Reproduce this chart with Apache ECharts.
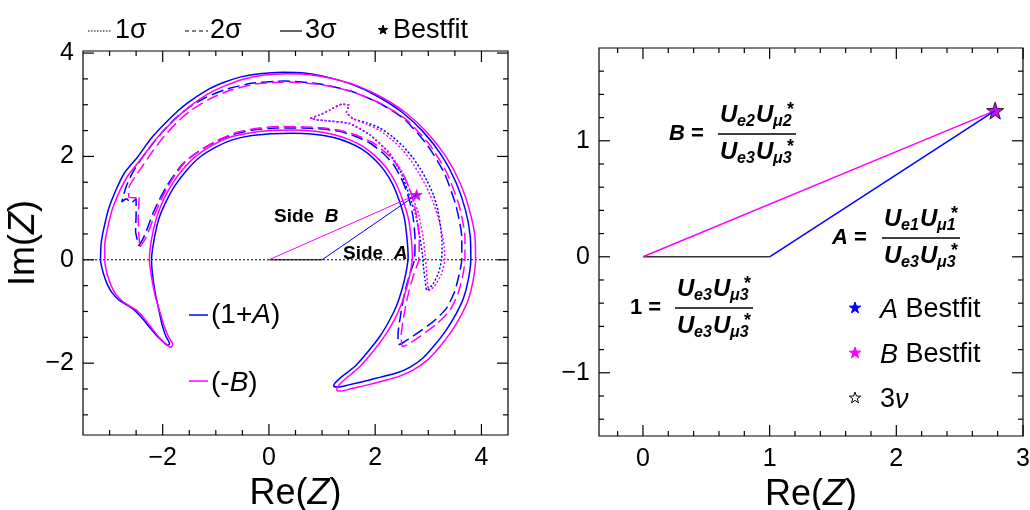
<!DOCTYPE html>
<html><head><meta charset="utf-8">
<script src="https://cdn.jsdelivr.net/npm/echarts@6/dist/echarts.min.js"></script>
<style>html,body{margin:0;padding:0;background:#fff}#c{width:1030px;height:510px}</style>
</head><body><div id="c"></div>
<script>
// ---------- DATA ----------
// Left panel: allowed regions of (1+A) (blue) and (-B) (magenta) in the complex plane
const A1 = [[0.78,2.74],[0.95,2.80],[1.15,2.90],[1.37,3.01],[1.51,2.99],[1.46,2.86],[1.58,2.73],[1.85,2.65],[2.09,2.55],[2.33,2.38],[2.53,2.19],[2.70,1.99],[2.84,1.78],[2.98,1.52],[3.10,1.25],[3.18,0.95],[3.23,0.65],[3.26,0.30],[3.25,0.00],[3.19,-0.26],[3.10,-0.45],[3.02,-0.56],[2.97,-0.59],[2.94,-0.40],[2.91,-0.15],[2.89,0.10],[2.84,0.45],[2.76,0.88],[2.65,1.22],[2.48,1.70],[2.23,2.10],[1.90,2.42],[1.52,2.64],[1.08,2.69],[0.90,2.71],[0.78,2.74]];
const B1 = [[0.78,2.74],[0.95,2.80],[1.15,2.90],[1.37,3.01],[1.51,2.99],[1.46,2.86],[1.58,2.73],[1.85,2.62],[2.09,2.50],[2.32,2.32],[2.52,2.12],[2.68,1.91],[2.82,1.68],[2.96,1.42],[3.08,1.14],[3.18,0.84],[3.25,0.55],[3.30,0.25],[3.31,0.00],[3.25,-0.27],[3.15,-0.46],[3.06,-0.57],[3.01,-0.59],[2.98,-0.42],[2.96,-0.15],[2.94,0.10],[2.90,0.45],[2.82,0.88],[2.70,1.22],[2.52,1.68],[2.26,2.08],[1.92,2.40],[1.53,2.63],[1.08,2.69],[0.90,2.71],[0.78,2.74]];
const A2 = [[-2.45,0.27],[-2.36,0.43],[-2.28,0.63],[-2.19,0.88],[-2.07,1.15],[-1.94,1.40],[-1.80,1.62],[-1.63,1.85],[-1.42,2.03],[-1.19,2.18],[-0.95,2.31],[-0.69,2.42],[-0.30,2.51],[0.15,2.55],[0.64,2.55],[1.00,2.53],[1.30,2.49],[1.60,2.40],[1.90,2.26],[2.14,2.07],[2.34,1.85],[2.48,1.60],[2.59,1.33],[2.67,1.05],[2.72,0.78],[2.75,0.40],[2.74,0.00],[2.66,-0.25],[2.56,-0.61],[2.48,-1.06],[2.43,-1.45],[2.44,-1.64],[2.53,-1.60],[2.78,-1.43],[3.10,-1.19],[3.34,-0.94],[3.49,-0.63],[3.58,-0.29],[3.63,0.00],[3.63,0.43],[3.52,1.05],[3.30,1.68],[2.98,2.22],[2.55,2.72],[2.10,3.02],[1.55,3.26],[0.96,3.40],[0.30,3.46],[-0.30,3.42],[-0.80,3.30],[-1.19,3.14],[-1.52,2.94],[-1.80,2.70],[-2.05,2.42],[-2.26,2.15],[-2.45,1.88],[-2.59,1.64],[-2.70,1.38],[-2.77,1.12],[-2.68,1.18],[-2.60,1.10],[-2.50,1.18],[-2.50,0.90],[-2.51,0.55],[-2.45,0.27]];
const B2 = [[-2.43,0.25],[-2.33,0.40],[-2.24,0.62],[-2.15,0.88],[-2.03,1.16],[-1.90,1.42],[-1.76,1.65],[-1.59,1.88],[-1.38,2.06],[-1.15,2.21],[-0.91,2.34],[-0.65,2.45],[-0.26,2.54],[0.19,2.58],[0.68,2.57],[1.04,2.55],[1.34,2.50],[1.65,2.41],[1.95,2.27],[2.20,2.07],[2.40,1.85],[2.55,1.60],[2.66,1.33],[2.74,1.05],[2.79,0.78],[2.83,0.40],[2.82,0.00],[2.73,-0.27],[2.63,-0.63],[2.54,-1.08],[2.49,-1.47],[2.51,-1.68],[2.61,-1.64],[2.86,-1.47],[3.17,-1.23],[3.41,-0.97],[3.56,-0.65],[3.65,-0.30],[3.69,0.00],[3.69,0.43],[3.58,1.05],[3.35,1.68],[3.03,2.22],[2.59,2.71],[2.13,3.01],[1.57,3.25],[0.97,3.39],[0.31,3.44],[-0.27,3.40],[-0.76,3.27],[-1.14,3.10],[-1.46,2.90],[-1.73,2.66],[-1.98,2.38],[-2.19,2.10],[-2.37,1.83],[-2.51,1.62],[-2.63,1.42],[-2.64,1.22],[-2.51,1.20],[-2.44,1.24],[-2.46,0.82],[-2.45,0.50],[-2.43,0.25]];
const A3 = [[-1.91,-1.66],[-2.02,-1.56],[-2.12,-1.46],[-2.26,-1.29],[-2.41,-1.10],[-2.57,-0.94],[-2.70,-0.86],[-2.82,-0.78],[-2.95,-0.64],[-3.04,-0.48],[-3.12,-0.25],[-3.17,0.00],[-3.16,0.30],[-3.13,0.50],[-3.07,0.78],[-3.01,1.01],[-2.88,1.35],[-2.72,1.68],[-2.48,1.98],[-2.20,2.37],[-1.85,2.75],[-1.55,3.02],[-1.19,3.27],[-0.88,3.42],[-0.56,3.53],[-0.18,3.60],[0.26,3.63],[0.70,3.61],[1.15,3.52],[1.60,3.38],[2.05,3.16],[2.50,2.86],[2.90,2.48],[3.25,2.02],[3.52,1.50],[3.70,0.96],[3.79,0.45],[3.80,0.00],[3.75,-0.40],[3.66,-0.75],[3.52,-1.05],[3.33,-1.37],[3.12,-1.65],[2.90,-1.90],[2.65,-2.08],[2.40,-2.19],[2.10,-2.27],[1.80,-2.35],[1.50,-2.42],[1.30,-2.46],[1.22,-2.45],[1.24,-2.39],[1.35,-2.28],[1.50,-2.16],[1.65,-2.03],[1.87,-1.77],[2.09,-1.48],[2.27,-1.17],[2.41,-0.87],[2.51,-0.55],[2.58,-0.25],[2.62,0.05],[2.60,0.40],[2.55,0.80],[2.45,1.15],[2.33,1.46],[2.17,1.73],[1.97,1.96],[1.75,2.14],[1.50,2.27],[1.20,2.37],[0.85,2.43],[0.45,2.45],[0.05,2.44],[-0.35,2.40],[-0.69,2.32],[-1.00,2.18],[-1.31,1.98],[-1.55,1.73],[-1.76,1.45],[-1.93,1.14],[-2.07,0.80],[-2.16,0.40],[-2.21,0.00],[-2.20,-0.20],[-2.17,-0.45],[-2.13,-0.70],[-2.07,-0.98],[-2.01,-1.26],[-1.94,-1.48],[-1.87,-1.62],[-1.91,-1.66]];
const B3 = [[-1.85,-1.70],[-1.95,-1.62],[-2.06,-1.51],[-2.20,-1.33],[-2.35,-1.13],[-2.50,-0.97],[-2.63,-0.89],[-2.75,-0.81],[-2.88,-0.67],[-2.97,-0.50],[-3.05,-0.26],[-3.09,0.00],[-3.09,0.30],[-3.06,0.50],[-3.00,0.78],[-2.94,1.00],[-2.81,1.33],[-2.64,1.65],[-2.41,1.95],[-2.13,2.33],[-1.79,2.70],[-1.49,2.97],[-1.13,3.22],[-0.82,3.37],[-0.50,3.49],[-0.12,3.57],[0.32,3.60],[0.78,3.58],[1.23,3.50],[1.68,3.36],[2.13,3.14],[2.58,2.84],[2.98,2.46],[3.33,2.00],[3.60,1.48],[3.78,0.94],[3.88,0.43],[3.89,0.00],[3.84,-0.42],[3.75,-0.78],[3.61,-1.09],[3.42,-1.41],[3.20,-1.70],[2.97,-1.95],[2.72,-2.13],[2.46,-2.25],[2.16,-2.34],[1.86,-2.42],[1.56,-2.49],[1.36,-2.54],[1.28,-2.53],[1.29,-2.46],[1.40,-2.34],[1.55,-2.21],[1.71,-2.07],[1.94,-1.80],[2.16,-1.50],[2.35,-1.18],[2.49,-0.87],[2.59,-0.55],[2.66,-0.25],[2.70,0.05],[2.68,0.40],[2.62,0.82],[2.51,1.18],[2.38,1.50],[2.21,1.78],[2.00,2.01],[1.76,2.20],[1.50,2.33],[1.19,2.43],[0.83,2.49],[0.42,2.51],[0.02,2.50],[-0.39,2.45],[-0.74,2.37],[-1.06,2.22],[-1.37,2.01],[-1.61,1.76],[-1.82,1.47],[-1.99,1.15],[-2.12,0.80],[-2.21,0.40],[-2.25,0.00],[-2.23,-0.20],[-2.19,-0.45],[-2.14,-0.70],[-2.06,-0.98],[-1.98,-1.26],[-1.89,-1.49],[-1.81,-1.64],[-1.85,-1.70]];
// unitarity triangle vertices and best fits
const origin = [0, 0];
const one = [1, 0];
const bestA = [2.78, 1.26];
const bestB = [2.78, 1.26];
const best3nu = [2.78, 1.26];
const zeroLine = [[-3.5, 0], [4.5, 0]];
// tick values
const xTicksL = [-2, 0, 2, 4];
const xMinorL = [-3, -2.5, -1.5, -1, -0.5, 0.5, 1, 1.5, 2.5, 3, 3.5];
const yTicksL = [-2, 0, 2, 4];
const yMinorL = [-3, -2.5, -1.5, -1, -0.5, 0.5, 1, 1.5, 2.5, 3, 3.5];
const xTicksR = [0, 1, 2, 3];
const xMinorR = [-0.2, 0.2, 0.4, 0.6, 0.8, 1.2, 1.4, 1.6, 1.8, 2.2, 2.4, 2.6, 2.8];
const yTicksR = [-1, 0, 1];
const yMinorR = [-1.4, -1.2, -0.8, -0.6, -0.4, -0.2, 0.2, 0.4, 0.6, 0.8, 1.2, 1.4, 1.6];

// ---------- STYLE ----------
const FONT = '"Liberation Sans", Arial, sans-serif';
const BLUE = '#0000ff', MAG = '#ff00ff';
const STAR = 'path://M0,-10 L2.35,-3.24 L9.51,-3.09 L3.80,1.24 L5.88,8.09 L0,4 L-5.88,8.09 L-3.80,1.24 L-9.51,-3.09 L-2.35,-3.24 Z';
const fmt = v => String(v).replace('-', '\u2212');
const nameRich = { n: { fontSize: 36, fontFamily: FONT, color: '#000' }, i: { fontSize: 36, fontFamily: FONT, fontStyle: 'italic', color: '#000' } };
const GRIDS = [
  { left: 83, top: 51, width: 425, height: 384 },
  { left: 599, top: 48, width: 424, height: 388 }
];

function axis(dim, grid, min, max, vals, extra) {
  const a = {
    type: 'value', gridIndex: grid, position: dim === 'x' ? 'bottom' : 'left', min: min, max: max,
    splitLine: { show: false },
    axisLine: { show: false },
    axisTick: { show: false },
    axisLabel: { show: true, customValues: vals, formatter: fmt, fontSize: 25, fontFamily: FONT, color: '#000', margin: dim === 'x' ? 11 : 9 }
  };
  return Object.assign(a, extra || {});
}
const xAxes = [
  axis('x', 0, -3.5, 4.5, xTicksL, { name: '{n|Re(}{i|Z}{n|)}', nameLocation: 'middle', nameGap: 33, nameTextStyle: { rich: nameRich } }),
  axis('x', 1, -0.347, 3.0, xTicksR, { name: '{n|Re(}{i|Z}{n|)}', nameLocation: 'middle', nameGap: 33, nameTextStyle: { rich: nameRich } })
];
const yAxes = [
  axis('y', 0, -3.39, 4.04, yTicksL, { name: '{n|Im(}{i|Z}{n|)}', nameLocation: 'middle', nameGap: 40, nameRotate: 90, nameTextStyle: { rich: nameRich } }),
  axis('y', 1, -1.545, 1.8, yTicksR)
];

function contour(name, data, color, dash, smooth) {
  return { name: name, type: 'line', xAxisIndex: 0, yAxisIndex: 0, data: data, symbol: 'none', smooth: smooth, silent: true,
    lineStyle: { color: color, width: 1.5, type: dash } };
}
function seg(data, color, width, xi, yi, dash) {
  return { type: 'line', xAxisIndex: xi, yAxisIndex: yi, data: data, symbol: 'none', silent: true,
    lineStyle: { color: color, width: width, type: dash || 'solid' } };
}
function star(name, pt, fill, stroke, size, xi, yi) {
  return { name: name, type: 'scatter', xAxisIndex: xi, yAxisIndex: yi, data: [pt], symbol: STAR, symbolSize: size, silent: true,
    itemStyle: { color: fill, borderColor: stroke, borderWidth: stroke === 'none' ? 0 : 1 } };
}

const series = [
  seg(zeroLine, '#000', 1, 0, 0, [2, 2]),
  contour('(1+A) 1σ', A1, BLUE, [2, 2], 0.15),
  contour('(-B) 1σ', B1, MAG, [2, 2], 0.15),
  contour('(1+A) 2σ', A2, BLUE, [12, 5], 0.2),
  contour('(-B) 2σ', B2, MAG, [12, 5], 0.2),
  contour('(1+A) 3σ', A3, BLUE, 'solid', 0.25),
  contour('(-B) 3σ', B3, MAG, 'solid', 0.25),
  seg([origin, one], '#000', 1, 0, 0),
  seg([origin, bestB], MAG, 1, 0, 0),
  seg([one, bestA], BLUE, 1, 0, 0),
  star('A best L', bestA, BLUE, 'none', 12, 0, 0),
  star('B best L', bestB, MAG, 'none', 12, 0, 0),
  // right panel
  seg([origin, one], '#333', 1.5, 1, 1),
  seg([origin, bestB], MAG, 1.5, 1, 1),
  seg([one, bestA], BLUE, 1.5, 1, 1),
  star('A Bestfit', bestA, BLUE, 'none', 16, 1, 1),
  star('B Bestfit', bestB, MAG, 'none', 16, 1, 1),
  star('3ν', best3nu, 'rgba(0,0,0,0)', '#000', 17, 1, 1)
];

const chart = echarts.init(document.getElementById('c'), null, { renderer: 'canvas' });
chart.setOption({
  animation: false,
  backgroundColor: '#fff',
  textStyle: { fontFamily: FONT },
  grid: GRIDS.map(r => Object.assign({ show: true, borderColor: '#000', borderWidth: 1.2, backgroundColor: 'transparent', containLabel: false, outerBoundsMode: 'none' }, r)),
  xAxis: xAxes,
  yAxis: yAxes,
  series: series
});

// ---------- ANNOTATIONS ----------
const g = [];
function txt(x, y, text, rich, size, extra) {
  g.push(Object.assign({ type: 'text', x: x, y: y, silent: true, z: 10,
    style: { text: text, rich: rich, font: (size || 25) + 'px ' + FONT, fill: '#000', align: 'left', verticalAlign: 'middle' } }, extra || {}));
}
function ln(x1, y1, x2, y2, color, w, dash) {
  g.push({ type: 'line', silent: true, z: 10, shape: { x1: x1, y1: y1, x2: x2, y2: y2 }, style: { stroke: color, lineWidth: w, lineDash: dash || null } });
}
function starG(cx, cy, r, fill, stroke) {
  const pts = [];
  for (let k = 0; k < 10; k++) {
    const a = -Math.PI / 2 + k * Math.PI / 5, rr = k % 2 ? r * 0.4 : r;
    pts.push([cx + rr * Math.cos(a), cy + rr * Math.sin(a)]);
  }
  g.push({ type: 'polygon', silent: true, z: 10, shape: { points: pts }, style: { fill: fill, stroke: stroke, lineWidth: 1 } });
}
// axis ticks on all four sides, placed through the axes' own scales
function ticks(gi, xs, ys, len) {
  const top = chart.convertToPixel({ yAxisIndex: gi }, yAxes[gi].max);
  const bot = chart.convertToPixel({ yAxisIndex: gi }, yAxes[gi].min);
  const lef = chart.convertToPixel({ xAxisIndex: gi }, xAxes[gi].min);
  const rig = chart.convertToPixel({ xAxisIndex: gi }, xAxes[gi].max);
  xs.forEach(v => {
    const p = chart.convertToPixel({ xAxisIndex: gi }, v);
    ln(p, bot, p, bot - len, '#000', 1.2); ln(p, top, p, top + len, '#000', 1.2);
  });
  ys.forEach(v => {
    const p = chart.convertToPixel({ yAxisIndex: gi }, v);
    ln(lef, p, lef + len, p, '#000', 1.2); ln(rig, p, rig - len, p, '#000', 1.2);
  });
}
ticks(0, xTicksL, yTicksL, 11); ticks(0, xMinorL, yMinorL, 5);
ticks(1, xTicksR, yTicksR, 11); ticks(1, xMinorR, yMinorR, 5);

const R = {
  n: { fontSize: 27, fontFamily: FONT, color: '#000' },
  i: { fontSize: 27, fontFamily: FONT, fontStyle: 'italic', color: '#000' },
  n2: { fontSize: 28, fontFamily: FONT, color: '#000' },
  i2: { fontSize: 28, fontFamily: FONT, fontStyle: 'italic', color: '#000' },
  b: { fontSize: 19, fontFamily: FONT, fontWeight: 'bold', color: '#000' },
  bi: { fontSize: 19, fontFamily: FONT, fontWeight: 'bold', fontStyle: 'italic', color: '#000' },
  fb: { fontSize: 22, fontFamily: FONT, fontWeight: 'bold', color: '#000' },
  fbi: { fontSize: 22, fontFamily: FONT, fontWeight: 'bold', fontStyle: 'italic', color: '#000' },
  U: { fontSize: 24, fontFamily: FONT, fontWeight: 'bold', fontStyle: 'italic', color: '#000' }
};
// top legend
ln(88, 31, 112, 31, '#000', 1.2, [1.5, 1.5]); txt(115, 31, '{n|1σ}', R);
ln(185, 31, 208, 31, '#000', 1.2, [4, 3]); txt(210, 31, '{n|2σ}', R);
ln(280, 31, 302, 31, '#000', 1.2); txt(305, 31, '{n|3σ}', R);
starG(383, 30, 5, '#000', '#000'); txt(393, 31, '{n|Bestfit}', R);
// left panel labels
txt(274, 217, '{b|Side  }{bi|B}', R);
txt(343, 254, '{b|Side  }{bi|A}', R);
ln(189, 315, 208, 315, BLUE, 1.5); txt(211, 315, '{n2|(1+}{i2|A}{n2|)}', R);
ln(189, 381, 208, 381, MAG, 1.5); txt(211, 383, '{n2|(-}{i2|B}{n2|)}', R);
// right legend
starG(855, 308, 6, BLUE, BLUE); txt(880, 310, '{i|A}{n| Bestfit}', R);
starG(855, 353, 6, MAG, MAG); txt(880, 355, '{i|B}{n| Bestfit}', R);
starG(855, 398, 6, 'none', '#000'); txt(880, 400, '{n|3}{i|ν}', R);
// ratio formulas
const SUB = { s: { fontSize: 16, fontFamily: FONT, fontWeight: 'bold', fontStyle: 'italic', color: '#000' } };
const AST = { s: { fontSize: 18, fontFamily: FONT, fontWeight: 'bold', color: '#000' } };
function U(x, y, sub, conj) {
  txt(x, y, '{U|U}', R);
  txt(x + 17, y + 7, '{s|' + sub + '}', SUB, 16);
  if (conj) txt(x + 31, y - 5, '{s|*}', AST, 18);
}
function ratio(lhs, lhsX, lx, ly, n1, n2, d1, d2) {
  txt(lhsX, ly, lhs, R);
  ln(lx, ly, lx + 78, ly, '#000', 1.5);
  U(lx + 2, ly - 19, n1, false);
  U(lx + 38, ly - 19, n2, true);
  U(lx + 2, ly + 18, d1, false);
  U(lx + 38, ly + 18, d2, true);
}
ratio('{fbi|B}{fb| =}', 669, 718, 134, 'e2', 'μ2', 'e3', 'μ3');
ratio('{fbi|A}{fb| =}', 832, 882, 238, 'e1', 'μ1', 'e3', 'μ3');
ratio('{fb|1 =}', 630, 675, 308, 'e3', 'μ3', 'e3', 'μ3');

chart.setOption({ graphic: g });
</script></body></html>
